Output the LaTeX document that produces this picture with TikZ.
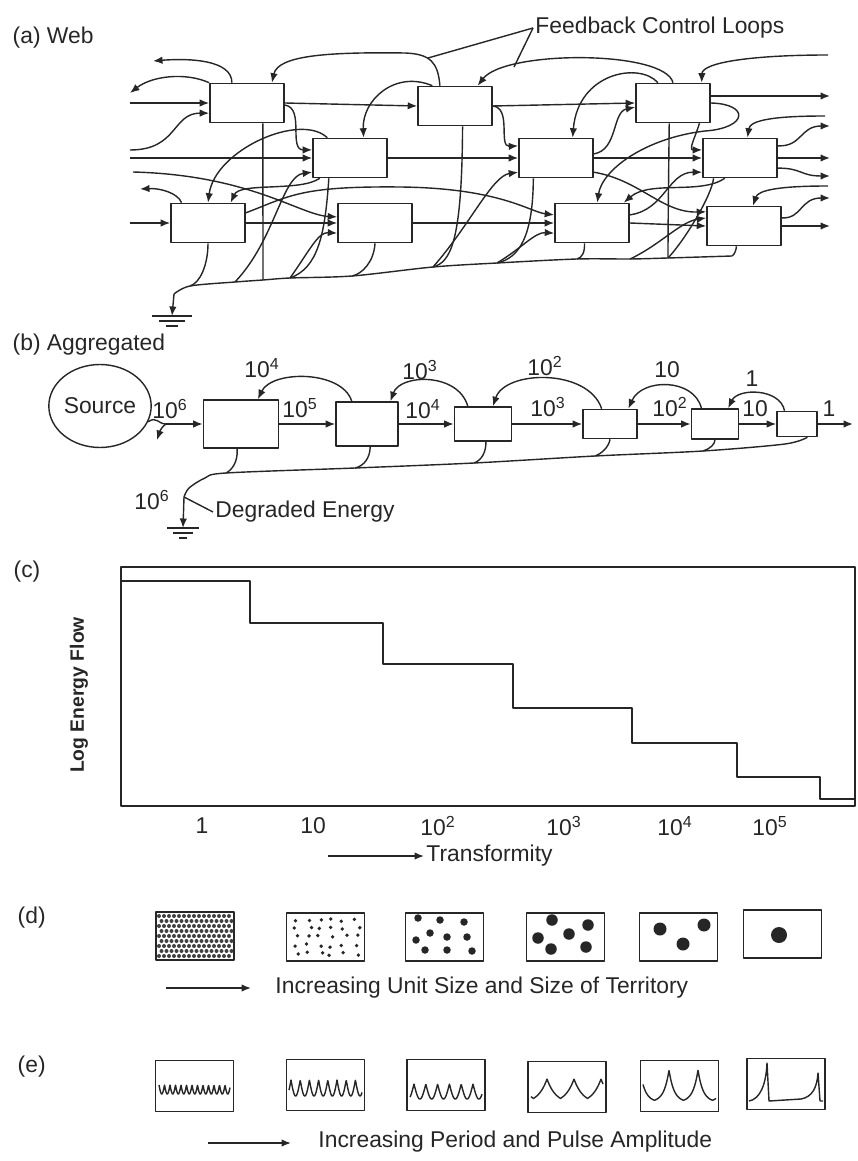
\documentclass[tikz,border=0pt]{standalone}
\usepackage{fontspec}
\setmainfont{Liberation Sans}
\usetikzlibrary{arrows.meta,positioning,calc,shapes.geometric}

\begin{document}
\begin{tikzpicture}[
  x=0.2mm, y=-0.2mm,
  font=\fontsize{13}{15.6}\selectfont,
  color=black!85,
  line width=0.8pt, line join=round,
  >={Latex[length=1.9mm,width=1.5mm]},
  unit/.style ={draw, line width=0.9pt, inner sep=0pt, minimum width=14.8mm, minimum height=7.8mm},
  stage/.style={draw, line width=0.9pt, inner sep=0pt},
  cell/.style ={draw, line width=1pt, inner sep=0pt, minimum width=15.6mm},
  dcell/.style={cell, minimum height=9.6mm},
  ecell/.style={cell, minimum height=10.2mm},
  flow/.style ={->},
  tag/.style  ={inner sep=1pt},
  panel/.style={anchor=west, inner sep=0pt},
  earth/.style={line width=1pt},
]
\useasboundingbox (0,0) rectangle (857,1161);

% ---------- (a) Web ----------
\node[panel] (pa) at (12,38) {(a) Web};
\node[tag, anchor=west] (fcl) at (533,28) {Feedback Control Loops};

\node[unit] (t1) at (247,103) {};
\node[unit] (t2) at (455,106) {};
\node[unit] (t3) at (673,103) {};
\node[unit] (m1) at (350,158) {};
\node[unit] (m2) at (556,158) {};
\node[unit] (m3) at (740,158) {};
\node[unit] (b1) at (208,223) {};
\node[unit] (b2) at (375,223) {};
\node[unit] (b3) at (592,223) {};
\node[unit] (b4) at (744,226) {};

% free ends at the edges
\coordinate (ia1) at (130,103);
\coordinate (ia2) at (130,158);
\coordinate (ia3) at (130,150);
\coordinate (ia4) at (133,172);
\coordinate (ib)  at (130,223);
\coordinate (oa1) at (830,96);
\coordinate (oa2) at (830,126);
\coordinate (oa3) at (830,158);
\coordinate (oa4) at (830,176);
\coordinate (oa5) at (830,198);
\coordinate (oa6) at (830,226);
\coordinate (fr1) at (828,55);
\coordinate (fr2) at (825,116);
\coordinate (fr3) at (828,186);
\coordinate (ol1) at (153,61);
\coordinate (ol2) at (130,93);
\coordinate (ol3) at (140,189);
\coordinate (fla) at (428,58);
\coordinate (flb) at (514,67);

% main flows
\draw[flow] (ia1) -- (t1);
\draw[flow] (t1.east) -- (t2.west);
\draw[flow] (t2.east) -- (t3.west);
\draw[flow] (t3.east |- oa1) -- (oa1);
\draw[flow] (ia2) -- (m1);
\draw[flow] (m1) -- (m2);
\draw[flow] (m2) -- (m3);
\draw[flow] (m3) -- (oa3);
\draw[flow] (ib) -- (b1);
\draw[flow] (b1) -- (b2);
\draw[flow] (b2) -- (b3);
\draw[flow] (b3.east) -- (b4.west);
\draw[flow] (b4) -- (oa6);

% feedback loops
\draw[flow] ($(t1.north west)!0.3!(t1.north east)$) .. controls (232,60) and (190,58) .. (ol1);
\draw[flow] (t1.north west) .. controls (185,72) and (152,76) .. (ol2);
\draw[flow] (ia3) .. controls (178,150) and (172,113) .. ($(t1.north west)!0.75!(t1.south west)$);
\draw[flow] ($(t1.north east)!0.55!(t1.south east)$) .. controls (305,108) and (288,150) .. ($(m1.north west)!0.3!(m1.south west)$);
\draw[flow] ($(t2.north west)!0.2!(t2.north east)$) .. controls (395,70) and (362,100) .. ($(m1.north west)!0.68!(m1.north east)$);
\draw[flow] ($(t2.north west)!0.3!(t2.north east)$) .. controls (438,62) and (430,54) .. (405,53)
  .. controls (330,52) and (278,55) .. ($(t1.north west)!0.83!(t1.north east)$);
\draw[flow] (t3.north) .. controls (665,50) and (505,50) .. ($(t2.north west)!0.8!(t2.north east)$);
\draw[flow] ($(t3.north west)!0.3!(t3.north east)$) .. controls (640,62) and (578,72) .. ($(m2.north west)!0.72!(m2.north east)$);
\draw[flow] (fr1) .. controls (755,55) and (702,62) .. ($(t3.north west)!0.88!(t3.north east)$);
\draw[flow] ($(m2.north east)!0.4!(m2.south east)$) .. controls (618,150) and (612,112) .. ($(t3.north west)!0.6!(t3.south west)$);
\draw[flow] ($(t2.north east)!0.5!(t2.south east)$) .. controls (512,108) and (498,147) .. ($(m2.north west)!0.2!(m2.south west)$);
\draw[flow] (t3.east) .. controls (750,104) and (748,128) .. (705,131)
  .. controls (645,138) and (602,170) .. ($(b3.north west)!0.57!(b3.north east)$);
\draw[flow] ($(t3.south west)!0.85!(t3.south east)$) .. controls (695,138) and (688,150) .. ($(m3.north west)!0.3!(m3.south west)$);
\draw[flow] ($(m2.north east)!0.85!(m2.south east)$) .. controls (640,180) and (662,213) .. ($(b4.north west)!0.15!(b4.south west)$);
\draw[flow] ($(b3.north east)!0.3!(b3.south east)$) .. controls (665,210) and (668,172) .. ($(m3.north west)!0.85!(m3.south west)$);
\draw[flow] (fr2) .. controls (775,116) and (750,120) .. ($(m3.north west)!0.6!(m3.north east)$);
\draw[flow] ($(m3.north east)!0.2!(m3.south east)$) .. controls (802,147) and (800,126) .. (oa2);
\draw[flow] ($(m3.north east)!0.75!(m3.south east)$) .. controls (802,168) and (800,176) .. (oa4);
\draw[flow] (fr3) .. controls (780,186) and (758,190) .. ($(b4.north west)!0.62!(b4.north east)$);
\draw[flow] ($(b4.north east)!0.3!(b4.south east)$) .. controls (802,219) and (800,198) .. (oa5);
\draw[flow] ($(b1.north west)!0.15!(b1.north east)$) .. controls (178,193) and (160,188) .. (ol3);
\draw[flow] ($(m1.north west)!0.2!(m1.north east)$) .. controls (300,112) and (215,150) .. (b1.north);
\draw[flow] ($(m1.south west)!0.1!(m1.south east)$) .. controls (300,192) and (240,182) .. ($(b1.north west)!0.8!(b1.north east)$);
\draw[flow] (ia4) .. controls (250,175) and (300,215) .. ($(b2.north west)!0.35!(b2.south west)$);
\draw[flow] ($(b1.north east)!0.25!(b1.south east)$) .. controls (290,196) and (300,186) .. (400,187)
  .. controls (500,188) and (530,212) .. ($(b3.north west)!0.3!(b3.south west)$);
\draw[flow] ($(m3.south west)!0.3!(m3.south east)$) .. controls (700,195) and (650,180) .. ($(b3.north west)!0.92!(b3.north east)$);

% leaders to the label
\draw (fcl.west) -- (fla);
\draw (fcl.west) -- (flb);

% heat sink collector
\coordinate (k0)  at (732,256);
\coordinate (k1)  at (668,258);
\coordinate (kx)  at (630,259);
\coordinate (k2)  at (577,259);
\coordinate (k3)  at (497,263);
\coordinate (k4)  at (433,267);
\coordinate (k5)  at (352,276);
\coordinate (k6)  at (290,278);
\coordinate (k6b) at (263,280);
\coordinate (k7)  at (235,282);
\coordinate (k8)  at (190,286);
\coordinate (k9)  at (174,294);
\coordinate (gr)  at (172,316);
\draw plot[smooth, tension=0.5] coordinates {(k0) (k1) (kx) (k2) (k3) (k4) (k5) (k6) (k6b) (k7) (k8) (k9)};
\draw[flow] (k9) -- (gr);
\draw[earth] ($(gr)+(-20,0)$) -- ($(gr)+(20,0)$)
             ($(gr)+(-13,5)$) -- ($(gr)+(13,5)$)
             ($(gr)+(-6,10)$) -- ($(gr)+(6,10)$);

% depreciation
\draw ($(t1.south west)!0.71!(t1.south east)$) -- (k6b);
\draw (b1.south) .. controls (208,265) and (200,283) .. (k8);
\draw ($(m1.south west)!0.22!(m1.south east)$) .. controls (325,235) and (318,268) .. (k6);
\draw (b2.south) .. controls (374,262) and (362,274) .. (k5);
\draw ($(t2.south west)!0.6!(t2.south east)$) .. controls (462,245) and (450,262) .. (k4);
\draw ($(m2.south west)!0.2!(m2.south east)$) .. controls (533,235) and (520,258) .. (k3);
\draw ($(b3.south west)!0.4!(b3.south east)$) .. controls (585,252) and (582,258) .. (k2);
\draw ($(t3.south west)!0.45!(t3.south east)$) .. controls (668,225) and (668,245) .. (k1);
\draw ($(m3.south west)!0.15!(m3.south east)$) .. controls (712,195) and (685,240) .. (k1);
\draw ($(b4.south west)!0.4!(b4.south east)$) .. controls (736,250) and (735,254) .. (k0);

% rising feedbacks
\draw[flow] (k7) .. controls (275,240) and (282,176) .. ($(m1.north west)!0.85!(m1.south west)$);
\draw[flow] (k6) .. controls (310,250) and (318,232) .. ($(b2.north west)!0.75!(b2.south west)$);
\draw[flow] (k4) .. controls (470,225) and (492,176) .. ($(m2.north west)!0.85!(m2.south west)$);
\draw[flow] (k3) .. controls (522,248) and (535,232) .. ($(b3.north west)!0.75!(b3.south west)$);
\draw[flow] (kx) .. controls (660,245) and (680,222) .. ($(b4.north west)!0.3!(b4.south west)$);

% ---------- (b) Aggregated ----------
\node[panel] (pb) at (12,345) {(b) Aggregated};
\node[draw, ellipse, inner sep=0pt, minimum width=18.8mm, minimum height=16.6mm] (src) at (100,406) {Source};

\node[stage, minimum width=15mm,   minimum height=9.6mm] (s1) at (241,424) {};
\node[stage, minimum width=12.4mm, minimum height=8.8mm] (s2) at (367,424) {};
\node[stage, minimum width=11.4mm, minimum height=6.8mm] (s3) at (483,424) {};
\node[stage, minimum width=10.8mm, minimum height=5.8mm] (s4) at (610,424) {};
\node[stage, minimum width=9.4mm,  minimum height=6mm]   (s5) at (715,424) {};
\node[stage, minimum width=8mm,    minimum height=5mm]   (s6) at (797,424) {};

\coordinate (sj) at (166,424);
\coordinate (sd) at (157,440);
\coordinate (bo) at (853,424);
\draw (src.-18) .. controls (157,416) and (158,424) .. (sj);
\draw[flow] (sj) -- (s1);
\draw[flow] (sj) .. controls (160,428) and (159,434) .. (sd);
\draw[flow] (s1) -- (s2);
\draw[flow] (s2) -- (s3);
\draw[flow] (s3) -- (s4);
\draw[flow] (s4) -- (s5);
\draw[flow] (s5) -- (s6);
\draw[flow] (s6) -- (bo);

% feedbacks
\draw[flow] ($(s2.north west)!0.26!(s2.north east)$) .. controls (342,370) and (272,370) .. ($(s1.north west)!0.72!(s1.north east)$);
\draw[flow] ($(s3.north west)!0.24!(s3.north east)$) .. controls (458,372) and (400,374) .. ($(s2.north west)!0.87!(s2.north east)$);
\draw[flow] ($(s4.north west)!0.35!(s4.north east)$) .. controls (588,368) and (505,370) .. ($(s3.north west)!0.67!(s3.north east)$);
\draw[flow] ($(s5.north west)!0.22!(s5.north east)$) .. controls (694,378) and (642,378) .. ($(s4.north west)!0.83!(s4.north east)$);
\draw[flow] ($(s6.north west)!0.2!(s6.north east)$) .. controls (780,388) and (738,388) .. ($(s5.north west)!0.77!(s5.north east)$);

% flow values
\node[tag] (v6)  at (170,409) {10\textsuperscript{6}};
\node[tag] (v5)  at (300,408) {10\textsuperscript{5}};
\node[tag] (v4)  at (423,409) {10\textsuperscript{4}};
\node[tag] (v3)  at (548,407) {10\textsuperscript{3}};
\node[tag] (v2)  at (670,407) {10\textsuperscript{2}};
\node[tag] (v1)  at (755,409) {10};
\node[tag] (v0)  at (829,409) {1};
\node[tag] (w4)  at (262,368) {10\textsuperscript{4}};
\node[tag] (w3)  at (420,370) {10\textsuperscript{3}};
\node[tag] (w2)  at (545,366) {10\textsuperscript{2}};
\node[tag] (w1)  at (667,370) {10};
\node[tag] (w0)  at (752,379) {1};

% degraded energy
\coordinate (c6) at ($(s6.south west)!0.75!(s6.south east)$);
\coordinate (c5) at (703,451);
\coordinate (c4) at (595,456);
\coordinate (c3) at (474,463);
\coordinate (c2) at (355,468);
\coordinate (c1) at (226,473);
\coordinate (cj) at (184,497);
\coordinate (gb) at (183,528);
\draw plot[smooth, tension=0.5] coordinates {(c6) (785,444) (c5) (c4) (c3) (c2) (c1) (205,478) (189,488) (cj)};
\draw[flow] (cj) -- (gb);
\draw[earth] ($(gb)+(-16,0)$) -- ($(gb)+(16,0)$)
             ($(gb)+(-10,5)$) -- ($(gb)+(10,5)$)
             ($(gb)+(-4,10)$) -- ($(gb)+(4,10)$);
\draw ($(s1.south west)!0.45!(s1.south east)$) .. controls (238,462) and (232,470) .. (c1);
\draw ($(s2.south west)!0.55!(s2.south east)$) .. controls (370,458) and (364,466) .. (c2);
\draw ($(s3.south west)!0.55!(s3.south east)$) .. controls (486,452) and (482,460) .. (c3);
\draw ($(s4.south west)!0.5!(s4.south east)$) .. controls (609,446) and (603,453) .. (c4);
\draw ($(s5.south west)!0.5!(s5.south east)$) .. controls (715,444) and (710,449) .. (c5);

\node[tag] (v6b) at (152,500) {10\textsuperscript{6}};
\node[tag, anchor=west] (deg) at (213,512) {Degraded Energy};
\draw (cj) -- (deg.west);

% ---------- (c) ----------
\node[panel] (pc) at (13,572) {(c)};
\node[draw, inner sep=0pt, minimum width=146.8mm, minimum height=47.8mm] (chart) at (488,686.5) {};
\draw (121,581) -| (250,623) -| (383,664) -| (513,708) -| (632,743) -| (737,777) -| (820,799) -- (855,799);
\foreach \tx/\lab in {202/1, 313/10, 438/10\textsuperscript{2}, 564/10\textsuperscript{3},
                      675/10\textsuperscript{4}, 770/10\textsuperscript{5}}{
  \node[tag] (x\tx) at (\tx,826) {\lab};
}
\node[tag, rotate=90, font=\bfseries\fontsize{11}{13}\selectfont] (ylab) at (79,695) {Log Energy Flow};
\coordinate (ta) at (328,856);
\node[tag, anchor=west] (tf) at (424,856) {Transformity};
\draw[flow] (ta) -- (tf.west);

% ---------- (d) ----------
\node[panel] (pd) at (17,918) {(d)};
\node[dcell] (d1) at (195,936) {};
\node[dcell] (d2) at (325.5,937) {};
\node[dcell] (d3) at (444.5,937) {};
\node[dcell] (d4) at (565.5,937) {};
\node[dcell] (d5) at (678.5,937) {};
\node[dcell] (d6) at (782.5,934) {};

\foreach \i in {0,...,14}
  \foreach \j in {0,...,8}
    \fill[black!75] ({159+\i*5+2.5*mod(\j,2)},{916+\j*5}) circle[radius=0.4mm];
\pgfmathsetseed{11}
\foreach \i in {0,...,5}
  \foreach \j in {0,...,4}
    \fill ({293+\i*12+7*rnd},{918+\j*8.5+4*rnd}) circle[radius=0.38mm];
\foreach \p in {(418,918),(440,920),(464,922),(430,933),(447,937),(467,937),(416,940),(425,950),(447,950),(472,951)}
  \fill \p circle[radius=0.75mm];
\foreach \p in {(552,920),(588,925),(569,934),(538,938),(551,949),(586,947)}
  \fill \p circle[radius=1.15mm];
\foreach \p in {(660,929),(704,925),(683,944)}
  \fill \p circle[radius=1.3mm];
\fill (779,935) circle[radius=1.6mm];

\coordinate (da) at (166,988);
\coordinate (db) at (251,988);
\draw[flow] (da) -- (db);
\node[tag, anchor=west] (dtx) at (273,988) {Increasing Unit Size and Size of Territory};

% ---------- (e) ----------
\node[panel] (pe) at (17,1067) {(e)};
\node[ecell] (e1) at (194.5,1086) {};
\node[ecell] (e2) at (325.5,1085) {};
\node[ecell] (e3) at (446,1085) {};
\node[ecell] (e4) at (567,1087) {};
\node[ecell] (e5) at (679.5,1086) {};
\node[ecell] (e6) at (786,1084) {};

\draw plot[domain=159:230, samples=220] (\x,{1094-9*(1-abs(sin(180*(\x-159)/5.5)))});
\draw plot[domain=289:362, samples=220] (\x,{1096-16*(1-abs(sin(180*(\x-291)/9.2)))});
\draw plot[domain=410:482, samples=200] (\x,{1099-15*(1-abs(sin(180*(\x-414)/11.8)))});
\draw plot[domain=531:603, samples=240] (\x,{1104-25*exp(-abs(mod(\x-263.5,27)-13.5)/9)});
\draw plot[domain=643:716, samples=300] (\x,{1102-32*exp(-abs(mod(\x-364.5,29)-14.5)/5)});
\draw (749,1101) .. controls (760,1099) and (766,1085) .. (767,1063) -- (769,1101) -- (801,1099)
  .. controls (812,1097) and (817,1088) .. (818,1073) -- (820,1101) -- (823,1101);

\coordinate (ea) at (208,1143);
\coordinate (eb) at (291,1143);
\draw[flow] (ea) -- (eb);
\node[tag, anchor=west] (etx) at (316,1142) {Increasing Period and Pulse Amplitude};

\end{tikzpicture}
\end{document}
